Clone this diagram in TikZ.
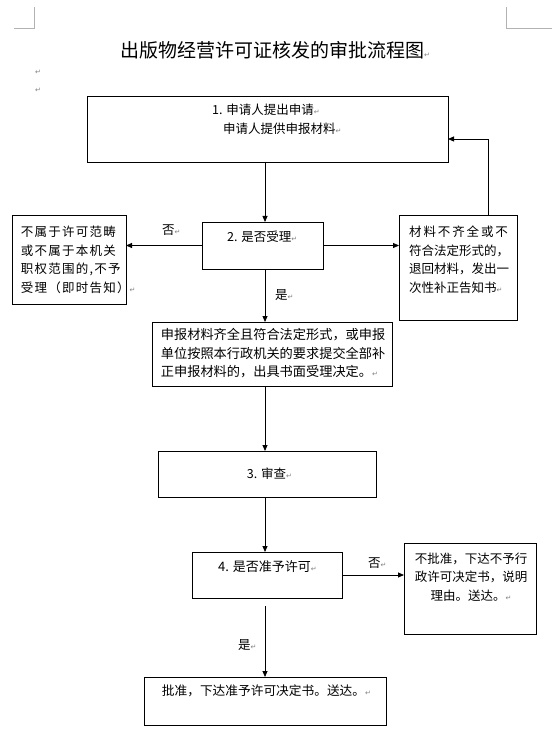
\documentclass[tikz,border=0pt]{standalone}
\usepackage{fontspec}
\setmainfont{Noto Sans CJK SC}
\newfontfamily\dvfont{DejaVu Sans}
\usetikzlibrary{arrows.meta}
\newcommand\retm{{\dvfont\fontsize{7}{7}\selectfont\textcolor{gray}{↵}}}
\begin{document}
\begin{tikzpicture}[x=1pt,y=-1pt,
 box/.style={draw,line width=0.8pt,inner sep=0pt,outer sep=0pt},
 txt/.style={inner sep=0pt,font=\fontsize{12.5}{18.5}\selectfont},
 txtsp/.style={inner sep=0pt,font=\fontsize{12.5}{18.5}\selectfont\addfontfeature{LetterSpace=10}},
 arr/.style={line width=0.8pt,-{Triangle[length=6pt,width=5pt]}},
 corner/.style={draw=gray!60,line width=0.6pt}]
\useasboundingbox (0,0) rectangle (552,751);
% page corner marks
\draw[corner] (14,28) -- (34,28) -- (34,7);
\draw[corner] (552,28) -- (506,28) -- (506,7);
% title
\node[inner sep=0pt,anchor=west,font=\fontsize{19}{19}\selectfont] (title) at (120,50) {出版物经营许可证核发的审批流程图\retm};
\node[inner sep=0pt] (p1) at (38,72) {\retm};
\node[inner sep=0pt] (p2) at (38,90) {\retm};
% boxes
\node[box,minimum width=361pt,minimum height=66pt] (b1) at (267.5,129) {};
\node[box,minimum width=121pt,minimum height=47pt] (b2) at (262.5,245.5) {};
\node[box,minimum width=114pt,minimum height=89pt] (L) at (69,259.5) {};
\node[box,minimum width=118pt,minimum height=105pt] (R1) at (458,267.5) {};
\node[box,minimum width=240pt,minimum height=64pt] (M) at (272,354) {};
\node[box,minimum width=218pt,minimum height=46pt] (b3) at (267,474) {};
\node[box,minimum width=150pt,minimum height=46pt] (b4) at (267,575) {};
\node[box,minimum width=132pt,minimum height=91pt] (R2) at (470,588.5) {};
\node[box,minimum width=242pt,minimum height=48pt] (F) at (265,701) {};
% texts
\node[txt,anchor=west] (t1a) at (212,110) {1. 申请人提出申请\retm};
\node[txt,anchor=west] (t1b) at (223,129) {申请人提供申报材料\retm};
\node[txt,anchor=west] (t2) at (227,237) {2. 是否受理\retm};
\node[txtsp,anchor=west,align=left] (tL) at (20.7,260) {不属于许可范畴\\或不属于本机关\\职权范围的,不予\\受理（即时告知）\retm};
\node[txt,anchor=west,align=left] (tR1) at (409,259.7) {{\addfontfeature{LetterSpace=15}材料不齐全或不}\\符合法定形式的，\\退回材料，发出一\\次性补正告知书\retm};
\node[inner sep=0pt,anchor=west,align=left,font=\fontsize{13.2}{18.3}\selectfont] (tM) at (160.7,353.3) {申报材料齐全且符合法定形式，或申报\\单位按照本行政机关的要求提交全部补\\正申报材料的，出具书面受理决定。\retm};
\node[txt,anchor=west] (t3) at (246.7,474) {3. 审查\retm};
\node[inner sep=0pt,anchor=west,font=\fontsize{13}{13}\selectfont] (t4) at (218,567) {4. 是否准予许可\retm};
\node[inner sep=0pt,align=center,font=\fontsize{12.5}{18.7}\selectfont] (tR2) at (471,577) {不批准，下达不予行\\政许可决定书，说明\\理由。送达。\retm};
\node[inner sep=0pt,anchor=west,font=\fontsize{12.7}{12.7}\selectfont] (tF) at (161.7,691) {批准，下达准予许可决定书。送达。\retm};
% labels
\node[txt,anchor=west] (n1) at (162,230) {否\retm};
\node[txt,anchor=west] (y1) at (275,295) {是\retm};
\node[txt,anchor=west] (n2) at (368,563) {否\retm};
\node[txt,anchor=west] (y2) at (238,645) {是\retm};
% connectors
\coordinate (sp) at (265,0);
\coordinate (fb) at (488,139);
\draw[arr] (b1.south -| sp) -- (b2.north -| sp);
\draw[arr] (b2.west) -- (L.east |- b2.west);
\draw[arr] (b2.east) -- (R1.west |- b2.east);
\draw[arr] (R1.north -| fb) |- (b1.east |- fb);
\draw[arr] (b2.south -| sp) -- (M.north -| sp);
\draw[arr] (M.south -| sp) -- (b3.north -| sp);
\draw[arr] (b3.south -| sp) -- (b4.north -| sp);
\draw[arr] (b4.east) -- (R2.west |- b4.east);
\draw[arr,shorten <=8pt] (b4.south -| sp) -- (F.north -| sp);
\end{tikzpicture}
\end{document}
